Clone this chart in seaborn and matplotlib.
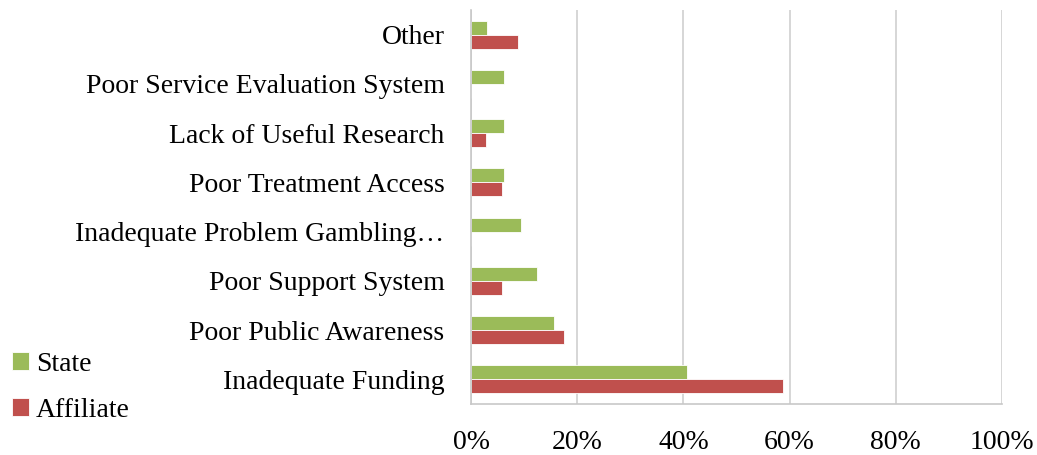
import pandas as pd
import seaborn as sns
import matplotlib.pyplot as plt
from matplotlib.ticker import PercentFormatter, FixedLocator

categories = ['Other', 'Poor Service Evaluation System', 'Lack of Useful Research',
              'Poor Treatment Access', 'Inadequate Problem Gambling…',
              'Poor Support System', 'Poor Public Awareness', 'Inadequate Funding']
state = [3.1, 6.25, 6.25, 6.25, 9.4, 12.5, 15.6, 40.6]
affiliate = [8.8, 0.0, 2.9, 5.9, 0.0, 5.9, 17.6, 58.8]
series = ['State', 'Affiliate']
colors = ['#9BBB59', '#C0504D']

df = pd.DataFrame({'category': categories * 2,
                   'value': state + affiliate,
                   'series': ['State'] * len(categories) + ['Affiliate'] * len(categories)})

sns.set_style('white')
plt.rcParams['font.family'] = ['Liberation Serif', 'DejaVu Serif']
plt.rcParams['text.color'] = 'black'
plt.rcParams['xtick.labelcolor'] = 'black'
plt.rcParams['ytick.labelcolor'] = 'black'

fig = plt.figure(figsize=(10.37, 4.55), dpi=100)
ax = fig.add_axes([0.4542, 0.112, 0.5121, 0.866])
sns.barplot(data=df, x='value', y='category', hue='series', order=categories,
            hue_order=series, palette=colors, saturation=1, width=0.57, orient='h',
            edgecolor='white', linewidth=0.6, ax=ax)

ax.set_xlim(0, 100)
ax.set_ylim(len(categories) - 0.5, -0.5)
ax.set_xticks([0, 20, 40, 60, 80, 100])
ax.xaxis.set_major_formatter(PercentFormatter(decimals=0))
ax.grid(axis='x', color='#d0d0d0', linewidth=1.2)
ax.set_axisbelow(True)
ax.set_xlabel('')
ax.set_ylabel('')

for s in ['top', 'right']:
    ax.spines[s].set_visible(False)
for s in ['left', 'bottom']:
    ax.spines[s].set_color('#c8c8c8')
    ax.spines[s].set_linewidth(1.2)

ax.tick_params(axis='y', which='major', length=0, pad=19, labelsize=20)
ax.yaxis.set_minor_locator(FixedLocator([i - 0.5 for i in range(len(categories) + 1)]))
ax.tick_params(axis='y', which='minor', length=6, color='#c8c8c8', width=1.2, direction='out')
ax.tick_params(axis='x', length=6, color='#c8c8c8', width=1.2, pad=13, labelsize=20, direction='out')

ax.get_legend().remove()
handles, labels = ax.get_legend_handles_labels()
fig.legend(handles, labels, loc='lower left', bbox_to_anchor=(0.0116, 0.071), frameon=False,
           fontsize=20, handlelength=0.6, handleheight=0.6, handletextpad=0.25,
           labelspacing=0.75, borderpad=0, borderaxespad=0)

fig.savefig('out.png', dpi=100)
